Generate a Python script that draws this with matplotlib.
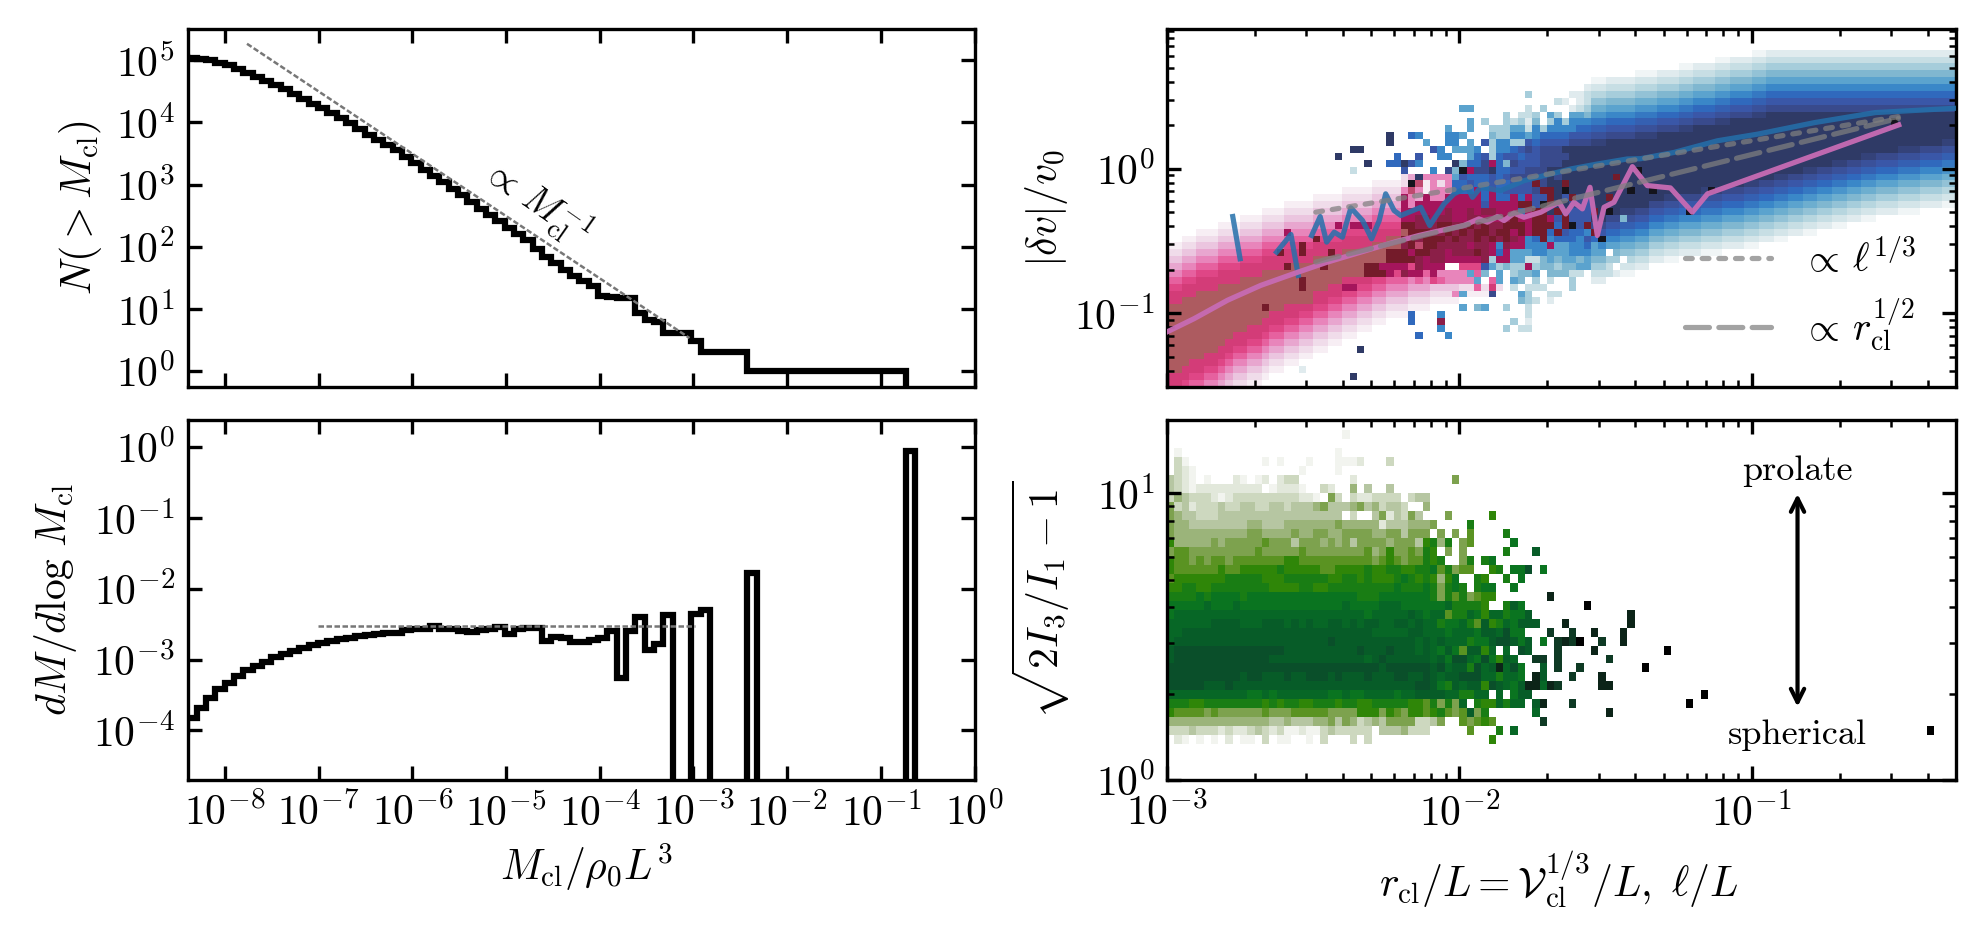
import numpy as np
import matplotlib
matplotlib.use("Agg")
import matplotlib.pyplot as plt
from matplotlib.colors import ListedColormap
from matplotlib.ticker import LogLocator, NullLocator, NullFormatter

plt.rcParams.update({
    "font.family": "cmr10", "mathtext.fontset": "cm", "font.size": 10,
    "axes.formatter.use_mathtext": True, "axes.unicode_minus": False,
    "axes.linewidth": 0.8,
})

# ---------- left column: log10 values per 0.0996-dex mass bin ----------
bin_start = -8.5
bin_width = 0.0996
log_N = [5.05, 5.04, 5.03, 5.00, 4.96, 4.92, 4.86, 4.80, 4.74, 4.67, 4.60, 4.535, 4.46, 4.385, 4.305,
         4.225, 4.145, 4.065, 3.985, 3.895, 3.80, 3.72, 3.64, 3.55, 3.45, 3.35, 3.24, 3.13, 3.04,
         2.93, 2.825, 2.72, 2.61, 2.505, 2.41, 2.30, 2.21, 2.10, 1.97, 1.84, 1.73, 1.62, 1.52,
         1.44, 1.36, 1.21, 1.19, 1.18, 1.18, 0.93, 0.82, 0.78, 0.602, 0.602, 0.602, 0.477,
         0.301, 0.301, 0.301, 0.301, 0.301, 0, 0, 0, 0, 0, 0, 0, 0, 0, 0, 0, 0, 0, 0, 0, 0, 0]
EMPTY = -9
log_dM = [-4.018, -3.829, -3.679, -3.547, -3.420, -3.325, -3.227, -3.146, -3.085, -3.029, -2.967,
          -2.920, -2.878, -2.831, -2.793, -2.760, -2.732, -2.713, -2.690, -2.671, -2.657, -2.642,
          -2.619, -2.619, -2.581, -2.572, -2.572, -2.525, -2.567, -2.567, -2.591, -2.614, -2.581,
          -2.572, -2.534, -2.642, -2.572, -2.558, -2.558, -2.732, -2.675, -2.690, -2.756, -2.756,
          -2.72, -2.699, -2.591, -3.264, -2.591, -2.402, -2.864, -2.779, -2.369, EMPTY, EMPTY,
          -2.355, -2.299, EMPTY, EMPTY, EMPTY, EMPTY, -1.781, EMPTY, EMPTY, EMPTY, EMPTY, EMPTY,
          EMPTY, EMPTY, EMPTY, EMPTY, EMPTY, EMPTY, EMPTY, EMPTY, EMPTY, EMPTY, EMPTY, -0.06, EMPTY]
slope_x = [-7.765, -3.042]
slope_y = [5.267, 0.529]
flat_x = [-7.008, -2.986]
flat_y = [-2.529, -2.529]

# ---------- top right: velocity lines (log10 x, log10 y) ----------
blue_x = [-2.775, -2.750, np.nan, -2.625, -2.576, -2.551, np.nan, -2.505, -2.476, -2.454, -2.428, -2.400,
          -2.371, -2.331, -2.300, -2.274, -2.252, -2.223, -2.200, -2.132, -2.101, -2.052, -2.018, -1.972,
          -1.955, -1.927, -1.859, -1.779, -1.710, -1.619, -1.528, -1.426, -1.380, -1.266, -1.117, -0.979,
          -0.784, -0.577, -0.293]
blue_y = [-0.331, -0.623, np.nan, -0.577, -0.455, -0.738, np.nan, -0.462, -0.331, -0.508, -0.439, -0.474,
          -0.271, -0.359, -0.485, -0.359, -0.174, -0.290, -0.324, -0.267, -0.393, -0.243, -0.174, -0.129,
          -0.198, -0.129, -0.152, -0.083, -0.048, -0.002, 0.032, 0.067, 0.069, 0.112, 0.193, 0.239,
          0.319, 0.388, 0.419]
pink_x = [-3.0, -2.907, -2.793, -2.679, -2.551, -2.451, -2.337, -2.223, -2.138, -2.064, -1.985, -1.933,
          -1.904, -1.870, -1.847, -1.813, -1.779, -1.721, -1.659, -1.636, -1.608, -1.579, -1.553, -1.528,
          -1.505, -1.471, -1.408, -1.357, -1.278, -1.203, -1.151, -0.497]
pink_y = [-1.129, -1.037, -0.910, -0.807, -0.715, -0.646, -0.577, -0.508, -0.462, -0.428, -0.393, -0.347,
          -0.370, -0.331, -0.359, -0.308, -0.336, -0.301, -0.232, -0.313, -0.232, -0.278, -0.129, -0.462,
          -0.267, -0.232, 0.014, -0.117, -0.133, -0.301, -0.174, 0.303]
dot_x = [-2.491, -0.492]
dot_y = [-0.301, 0.362]
dash_x = [-2.491, -0.498]
dash_y = [-0.646, 0.348]

# ---------- top right heat map: one colour code per cell ----------
heat_palette = {
    "a": "#f7eef4", "b": "#f0dcea", "c": "#ebc5df", "d": "#e8a6cf", "e": "#e885bb", "f": "#e6619f",
    "g": "#df4686", "h": "#d33c78", "i": "#bf4a6e", "j": "#ad5b60",
    "k": "#a5155c", "m": "#8b1f48", "n": "#741b2a", "o": "#4a2030",
    "A": "#f0f5f6", "1": "#e0ebee", "B": "#d4e5e9", "2": "#c7dee4", "C": "#b7d6df", "3": "#a6cddb",
    "D": "#93c2d6", "4": "#80b7d0", "E": "#6daecf", "5": "#5ba3ce", "F": "#4a95cb", "6": "#3a87c8",
    "G": "#3578c2", "7": "#3069bd", "H": "#3560b2", "8": "#3a57a8", "I": "#3a519a", "9": "#394a8c",
    "J": "#344279", "0": "#2f3a66", "x": "#14141c",
}
heat_rows = [
    (0, 0, "hhgffeedcb baa"), (1, 0, "hhhggffedc cbba...... .....0"), (2, 0, "jjhhhggfed dccbaa..1."),
    (3, 0, "jjjhhhhgfe eddcbbaa"), (4, 0, "jjjjjhhhgf feedccbbaa"),
    (5, 0, "jjjjjjjhhg gffeddccbb aa....0"), (6, 0, "jjjjjjjjhh hggfeeddcc bbaa"),
    (7, 0, "jjjjjjjjjh hhhgffeedd ccbbaa.... ....7...6"),
    (8, 0, "jjjjjjjjjj jhhhggffee ddccbbaa.. .......6.. ......3.22"),
    (9, 0, "jjjjjjjjjj jjjhhhggff eeddccbbaa ...7...m.. .......3.1"),
    (10, 0, "jjjjjjjjjj jjjjhhhhgg ffeeddccbb aaa7...6.. .........2"),
    (11, 0, "jjjjjjjjjj jjjnjjhhhh ggffeeddcc bbbaaa.... 5.45..3..2"),
    (12, 0, "hhjjjjjjjj jjjjjjjjjj hhggffeedd cccbbbaaaa ........43 2.1"),
    (13, 0, "hhhhjjjjjj jjjjjjjjjj hhhhggffee dddcccbbbe 5aaa9...53 ..22"),
    (14, 0, "gghhhhhjjj jjjjjjjjnj jjhhkkggff eeedddcccc bbfbhb.2.2 22...3"),
    (15, 0, "ffgghhhhhh jjjjjjjjnj jjjjhhhhgg fffefegfee ee5.f5.54. 3.2..3"),
    (16, 0, "eeffggghhh hhhjjjjjjj jjjjjjjnnn kgmkkfkeee e5f4.5.344 5.44422"),
    (17, 0, "ddeefffggg hhhhhhnjjj jnjjjjjnnk kkkgmkkk.. ggg8534 33k 34434455"),
    (18, 0, "ccddeeefff ggghhhhhhh jjjjjjjjjj nnnnmkmmkk kkkm3kk552 24545545"),
    (19, 0, "bbccdddeee fffggnhhnh hhnhjjjjjj nnnknnmmkm mmnmk7k555 66555666"),
    (20, 0, "aabbcccddd eeefffggng hhhhhhhhjj jjmninnmmm mkmmk6mkk6 66k55667"),
    (21, 0, "..aabbbccc dddeeeffff nggghhhhhh jjnnmnnnmn mmnmnmnmk6 7n677768"),
    (22, 0, "....aaabbb cccdddkeee ffffgggghh hhjnnnmmnm nmnnmnnknk nn7n8776"),
    (23, 0, ".......aaa bbbcccdddd eeekfkkkgg ggnnmmmnnm mnmnmmnnnk nnn7n787"),
    (24, 10, "aaabbbcccc ddddeeeeff ffkkmmkmmk kmmkkkmnkk nnk8n888"),
    (25, 10, "...aaabbbb ccccddddee eekkkkkkmk kmkmmkkk7k nn0n0888"),
    (26, 10, "......aaaa bbbbccccdd ddkekkkkkk kkk8kkkknn 8xn00998"),
    (27, 20, "aaaabbbbcc cckedkeekk kkk7k77k7k 88n08n98"),
    (28, 20, "....aaaabb bbeieaeee7 77k7k78888 9nn0x000"),
    (29, 20, "........aa aabxiaebe7 7877877888 n900n000"),
    (30, 30, "..bd0eeee5 8777878999 99090000"),
    (31, 20, ".....2.... ..8...6.94 xk99077889 99000000"),
    (32, 20, ".......0.. 77086....0 4779k74988 89990000"),
    (33, 20, "...0...... .7..8..66. .578378878 89999000"),
    (34, 20, ".....00... ......86.5 556.366789 89990000"),
    (35, 30, "0....5..66 .5.8366338 78888999"),
    (36, 30, "0..76...66 5...433665 67777888"),
    (37, 30, "........5. .5..333552 63666677"),
    (38, 40, ".5.3..3231 4.363666"),
    (39, 40, "......3.22 3.53.554"),
    (40, 40, "55.......2 .3...123"),
    (41, 50, "...21.12"),
    (42, 49, "3.....112"),
    (43, 57, "1"),
]
# right part of the map: row -> "first_column:code" runs, each reaching the next run
heat_runs = {
    48: "80:A 82:1", 47: "75:A 77:1 80:B 82:2", 46: "70:A 72:1 75:B 77:2 80:C 82:3",
    45: "64:A 67:1 70:B 72:2 75:C 77:3 80:D 82:4",
    44: "58:A 60:1 64:B 67:2 70:C 72:3 75:D 77:4 80:E 82:5",
    43: "58:B 60:2 64:C 67:3 70:D 72:4 75:E 77:5 80:F 82:6",
    42: "58:C 60:3 64:D 67:4 70:E 72:5 75:F 77:6 80:G 82:7",
    41: "58:D 60:4 64:E 67:5 70:F 72:6 75:G 77:7 80:H 82:8",
    40: "58:E 60:5 64:F 67:6 70:G 72:7 75:H 77:8 80:I 82:9",
    39: "58:F 60:6 64:G 67:7 70:H 72:8 75:I 77:9 80:J 82:0",
    38: "58:G 60:7 64:H 67:8 70:I 72:9 75:J 77:0",
    37: "58:H 60:8 64:I 67:9 70:J 72:0",
    36: "58:I 60:9 64:J 67:0",
    35: "58:J 60:0 106:J",
    34: "58:0 100:J 103:9 106:I",
    33: "58:0 95:J 97:9 100:I 103:8 106:H",
    32: "58:0 91:J 93:9 95:I 97:8 100:H 103:7 106:G",
    31: "58:0 87:J 89:9 91:I 93:8 95:H 97:7 100:G 103:6 106:F",
    30: "58:0 83:J 85:9 87:I 89:8 91:H 93:7 95:G 97:6 100:F 103:5 106:E",
    29: "58:0 79:J 81:9 83:I 85:8 87:H 89:7 91:G 93:6 95:F 97:5 100:E 103:4 106:D",
    28: "58:0 73:J 76:9 79:I 81:8 83:H 85:7 87:G 89:6 91:F 93:5 95:E 97:4 100:D 103:3 106:C",
    27: "58:0 68:J 70:9 73:I 76:8 79:H 81:7 83:G 85:6 87:F 89:5 91:E 93:4 95:D 97:3 100:C 103:2 106:B",
    26: "58:0 66:9 68:I 70:8 73:H 76:7 79:G 81:6 83:F 85:5 87:E 89:4 91:D 93:3 95:C 97:2 100:B 103:1 106:A",
    25: "58:0 62:J 64:9 66:8 68:H 70:7 73:G 76:6 79:F 81:5 83:E 85:4 87:D 89:3 91:C 93:2 95:B 97:1 100:A 103:.",
    24: "58:0 60:9 62:I 64:8 66:7 68:G 70:6 73:F 76:5 79:E 81:4 83:D 85:3 87:C 89:2 91:B 93:1 95:A 97:.",
    23: "58:9 60:8 62:H 64:7 66:6 68:F 70:5 73:E 76:4 79:D 81:3 83:C 85:2 87:B 89:1 91:A 93:.",
    22: "58:8 60:7 62:G 64:6 66:5 68:E 70:4 73:D 76:3 79:C 81:2 83:B 85:1 87:A 89:.",
    21: "58:7 60:6 62:F 64:5 66:4 68:D 70:3 73:C 76:2 79:B 81:1 83:A 85:.",
    20: "58:6 60:5 62:E 64:4 66:3 68:C 70:2 73:B 76:1 79:A 81:.",
    19: "58:5 60:4 62:D 64:3 66:2 68:B 70:1 73:A 76:.",
    18: "58:4 60:3 62:C 64:2 66:1 68:A 70:.",
    17: "58:3 60:2 62:B 64:1 66:.",
    16: "58:2 60:1 62:A 64:.",
    15: "58:1 60:.",
}
heat_cells = [(21, 59, "x"), (25, 60, "x"), (31, 64, "x"), (28, 63, "x"), (28, 66, "x"), (30, 66, "0"),
              (25, 71, "x"), (28, 74, "x"), (38, 99, "x"), (23, 55, "x"), (23, 57, "n"), (30, 61, "n"),
              (27, 60, "n"), (25, 58, "n"), (22, 58, "n"), (24, 62, "4"), (19, 60, "."), (17, 61, "."),
              (16, 60, "2"), (20, 58, "5"), (18, 62, ".")]
heat_cols_per_decade = 40
heat_rows_per_decade = 21
heat_log_xmin = -3.0
heat_log_ymin = -1.51

# ---------- bottom right heat map ----------
green_palette = {
    "a": "#f2f4ef", "b": "#e2e8db", "c": "#cdd8bf", "d": "#b6c6a2", "e": "#9bb47a", "f": "#7da24e",
    "g": "#5a9322", "h": "#2f8608", "i": "#197d14", "j": "#0a7420", "k": "#076726", "m": "#075c28",
    "n": "#0a4f2a", "p": "#0e3a24", "q": "#0c2418", "x": "#000000",
}
green_rows = [
    (4, ".ba.a.a.b. aa.c.aa..a .c...c.c.. ....... .......h"),
    (5, "cccdcccbcb bcdcbcaaba acdccccc.d ddeccc. ....g...i.k"),
    (6, "eeeeeeeeee eeeeddeddd eefdfecded ffffccd f..gfghg......p"),
    (7, "hggggfgfff fffgfffggg ggffffhhhf hgfhhgh igfgmfi......k.........q"),
    (8, "iiihhiiiii iiihihiihh iiihiihhii iiihhgi fifk.ihhkikk.mq...p...............x"),
    (9, "kkkkkkkkkk kjjkjkkkkk kkjjkjjkkk kjkkmmm mkkiikk.k.jmm.......................x"),
    (10, "nnnnnmmmnm mmmmmmmmmm mmmmmmmmmm mmmmnnm jimkmmhnmkjmqqkqp.....qq"),
    (11, "nnnnnnnnnn mnnmmmnmmn nnmnmmmnmm mnnmmnm kmmnnnkkikkj.qm...p...q"),
    (12, "nnnnnnnnnn nnnnnnnnnn nnnnnnnnnm nnnnnnm nkmminkmqknj..m.p..p........x"),
    (13, "mnnnnnnnnn nnnnmmmmmm mmmmmmmkmn mmmmmmk mjnnkjnjhmk..pp.p......p"),
    (14, "mnnnnnnnnn nnnnnnmmmm mmmmmmnmmm nmmmkmk jmjgmmhk.k.nm...p....q.........x"),
    (15, "kmmmmmmmmm mmmmmmmmmm mmnmmmmmmm mmmmkmk mkkkijjmnnmjm.j.pqpx..p..q"),
    (16, "kkmmmmmmmm mmmmmmmmmm mmmmmmmmkk kkkmmkk kjkkkjmmknjj...p..p..q...q"),
    (17, "kkkkkkmmmm kkkmmmkmkm kkmmkmkmmk kmmkmkk ijjkigmhikjmmm...q........q"),
    (18, "jkkkkkkkkk kkkkkkkkkk kkkkkkkjkk kkkmkjk kgiikjhkkijjm.............q"),
    (19, "jjjjjkjjjk jjjjjjjjjj jjjjkjjjjk kkjjjjj jkiiiih..imj........x"),
    (20, "iiiijijjjj ijjjjjjjjj jjjjjjiiij jjjjjji figifghh.......q"),
    (21, "hhiihhiiii iiiihhhhii hhiiiiiiii ijiiiji fiji.ijj..j"),
    (22, "ghhhhhhhii iiihhhiiii iihhiihihh hijihih ehj..ih..i.j"),
    (23, "hgggggghgg hhhhhihhhh hgghhhhihh iihhiij gifgg..hi.jjn.j"),
    (24, "hggfgfggfg gggggghhgg ggggggggfg hgfggih i..fi.ij"),
    (25, "fggfffffff ffgfffffgf fffffffgef hffgfih .f.f.....i...m"),
    (26, "heeeeefeff fffgfffdff fefefdffff efffdhi ei.fg.....j"),
    (27, "feeeeeeeee effeeeefee ffeeffffee ffdfff. f.f.g....i"),
    (28, "feeddddddd deedddeeee eeefeeeeeb dddeeef ....i"),
    (29, "feddcccddd dddddddddd dddd.c..df bdcfd.. .f.....h"),
    (30, "fcdbcccdcc ddccddcddd efdddefdec ddc..e."),
    (31, "cedcccbabc ccccccccbb a.fc.cbbcc cc.cdd."),
    (32, "dcbabbbbbb bbb.abbba. .cb..e.d.. d"),
    (33, "dcba.a...b a.ab.bcc.. .....b.... ....... ..f"),
    (34, ".cba...... ........a. ...a"),
    (35, ".ca....... ...a.a...a ...aaab... c"),
    (36, ".a........ .......... ...a"),
    (38, ".......... .......... ....a"),
]
green_cells = [(5, 104, "x")]
green_cols_per_decade = 40
green_rows_per_decade = 32
green_log_xmin = -3.0
green_log_ymin = 0.0

# ---------- tick / axis ranges ----------
mass_xlim = [3.98e-9, 1.0]
count_ylim = [0.55, 3.2e5]
dm_ylim = [2.0e-5, 2.4]
size_xlim = [1e-3, 0.5]
dv_ylim = [10 ** -1.51, 10 ** 0.966]
shape_ylim = [1.0, 18.0]

W, H = 1984, 934
fig = plt.figure(figsize=(W / 300, H / 300), dpi=300)


def add_axes(l, t, r, b):
    return fig.add_axes([l / W, 1 - b / H, (r - l) / W, (b - t) / H])


ax_n = add_axes(187.5, 29, 974.5, 387)
ax_m = add_axes(187.5, 420, 974.5, 780)
ax_v = add_axes(1167, 29, 1956, 387)
ax_s = add_axes(1167, 420, 1956, 780)


def style(ax, minor):
    ax.set_xscale("log")
    ax.set_yscale("log")
    ax.tick_params(which="major", direction="in", top=True, right=True, length=3.4, width=0.8, labelsize=10, pad=3)
    ax.tick_params(which="minor", direction="in", top=True, right=True, length=1.7, width=0.6)
    for axis in (ax.xaxis, ax.yaxis):
        axis.set_major_locator(LogLocator(10, numticks=30))
        if minor:
            axis.set_minor_locator(LogLocator(10, subs=range(2, 10), numticks=30))
            axis.set_minor_formatter(NullFormatter())
        else:
            axis.set_minor_locator(NullLocator())


for a, m in ((ax_n, False), (ax_m, False), (ax_v, True), (ax_s, True)):
    style(a, m)

# left column
edges = 10 ** (bin_start + bin_width * np.arange(len(log_N) + 1))
ax_n.stairs(10.0 ** np.array(log_N), edges, baseline=1e-3, color="k", lw=1.5, fill=False)
ax_n.plot(10.0 ** np.array(slope_x), 10.0 ** np.array(slope_y), color="#777777", lw=0.6, ls=(0, (2.2, 1.0)))
ax_n.set_xlim(mass_xlim)
ax_n.set_ylim(count_ylim)
ax_n.tick_params(labelbottom=False)
ax_n.text(10 ** -4.68, 10 ** 2.71, r"$\propto\,M_{\rm cl}^{-1}$", rotation=-35, ha="center", va="center", fontsize=9)

edges = 10 ** (bin_start + bin_width * np.arange(len(log_dM) + 1))
ax_m.stairs(10.0 ** np.array(log_dM), edges, baseline=1e-12, color="k", lw=1.5, fill=False)
ax_m.plot(10.0 ** np.array(flat_x), 10.0 ** np.array(flat_y), color="#777777", lw=0.6, ls=(0, (2.2, 1.0)))
ax_m.set_xlim(mass_xlim)
ax_m.set_ylim(dm_ylim)


def draw_cells(ax, palette, filled, xmin, ymin, xrate, yrate):
    keys = list(palette)
    cmap = ListedColormap([palette[k] for k in keys])
    nrow = max(r for r, _, _ in filled) + 1
    ncol = max(c for _, c, _ in filled) + 1
    grid = np.full((nrow, ncol), np.nan)
    for r, c, code in filled:
        grid[r, c] = keys.index(code) if code != "." else np.nan
    xe = 10 ** (xmin + np.arange(ncol + 1) / xrate)
    ye = 10 ** (ymin + np.arange(nrow + 1) / yrate)
    ax.pcolormesh(xe, ye, np.ma.masked_invalid(grid), cmap=cmap, vmin=-0.5, vmax=len(keys) - 0.5,
                  shading="flat", antialiased=False, linewidth=0, zorder=1)


cells = []
for r, c0, text in heat_rows:
    for i, ch in enumerate(text.replace(" ", "")):
        cells.append((r, c0 + i, ch))
for r, text in heat_runs.items():
    runs = [t.split(":") for t in text.split()]
    for j, (first, code) in enumerate(runs):
        last = int(runs[j + 1][0]) if j + 1 < len(runs) else 108
        for c in range(int(first), last):
            cells.append((r, c, code))
cells += heat_cells
draw_cells(ax_v, heat_palette, cells, heat_log_xmin, heat_log_ymin, heat_cols_per_decade, heat_rows_per_decade)

ax_v.plot(10.0 ** np.array(blue_x), 10.0 ** np.array(blue_y), color="#2470ab", lw=1.25, alpha=0.85, zorder=3)
ax_v.plot(10.0 ** np.array(pink_x), 10.0 ** np.array(pink_y), color="#c76bb4", lw=1.25, alpha=0.95, zorder=3)
ax_v.plot(10.0 ** np.array(dot_x), 10.0 ** np.array(dot_y), color="#808080", lw=1.25, alpha=0.72,
          ls=(0, (1.3, 1.9)), dash_capstyle="round", zorder=4, label=r"$\propto\,\ell^{1/3}$")
ax_v.plot(10.0 ** np.array(dash_x), 10.0 ** np.array(dash_y), color="#808080", lw=1.25, alpha=0.72,
          ls=(0, (4.6, 1.8)), dash_capstyle="round", zorder=4, label=r"$\propto\,r_{\rm cl}^{1/2}$")
ax_v.set_xlim(size_xlim)
ax_v.set_ylim(dv_ylim)
ax_v.tick_params(labelbottom=False)
ax_v.legend(loc="lower left", bbox_to_anchor=(0.6565, 0.095), frameon=False, fontsize=9.5, handlelength=2.17,
            handletextpad=0.79, labelspacing=0.4, borderpad=0, borderaxespad=0)

cells = []
for r, text in green_rows:
    for i, ch in enumerate(text.replace(" ", "")):
        cells.append((r, i, ch))
cells += green_cells
draw_cells(ax_s, green_palette, cells, green_log_xmin, green_log_ymin, green_cols_per_decade, green_rows_per_decade)
ax_s.set_xlim(size_xlim)
ax_s.set_ylim(shape_ylim)
ax_s.annotate("", xy=(0.1435, 9.95), xytext=(0.1435, 1.80), zorder=5,
              arrowprops=dict(arrowstyle="<->", color="k", lw=1.0, shrinkA=0, shrinkB=0, mutation_scale=8))
ax_s.text(0.1435, 11.9, "prolate", ha="center", va="center", fontsize=8.7)
ax_s.text(0.1435, 1.43, "spherical", ha="center", va="center", fontsize=8.7)

# labels
ax_n.set_ylabel(r"$N(>M_{\rm cl})$", fontsize=10)
ax_m.set_ylabel(r"$dM/d\log\,M_{\rm cl}$", fontsize=10)
ax_v.set_ylabel(r"$|\delta v|/v_0$", fontsize=10)
ax_s.set_ylabel(r"$\sqrt{2I_3/I_1-1}$", fontsize=10)
ax_m.set_xlabel(r"$M_{\rm cl}/\rho_0 L^3$", fontsize=10)
ax_s.set_xlabel(r"$r_{\rm cl}/L=\mathcal{V}_{\rm cl}^{1/3}/L,\ \ell/L$", fontsize=10)
for ax, px in ((ax_n, 104), (ax_m, 79), (ax_v, 1070), (ax_s, 1072)):
    ax.yaxis.set_label_coords(px / W, 0.5 * (ax.get_position().y0 + ax.get_position().y1), transform=fig.transFigure)
ax_m.xaxis.set_label_coords(586 / W, 1 - 842 / H, transform=fig.transFigure)
ax_s.xaxis.set_label_coords(1559 / W, 1 - 849 / H, transform=fig.transFigure)

fig.savefig("out.png", dpi=300)
